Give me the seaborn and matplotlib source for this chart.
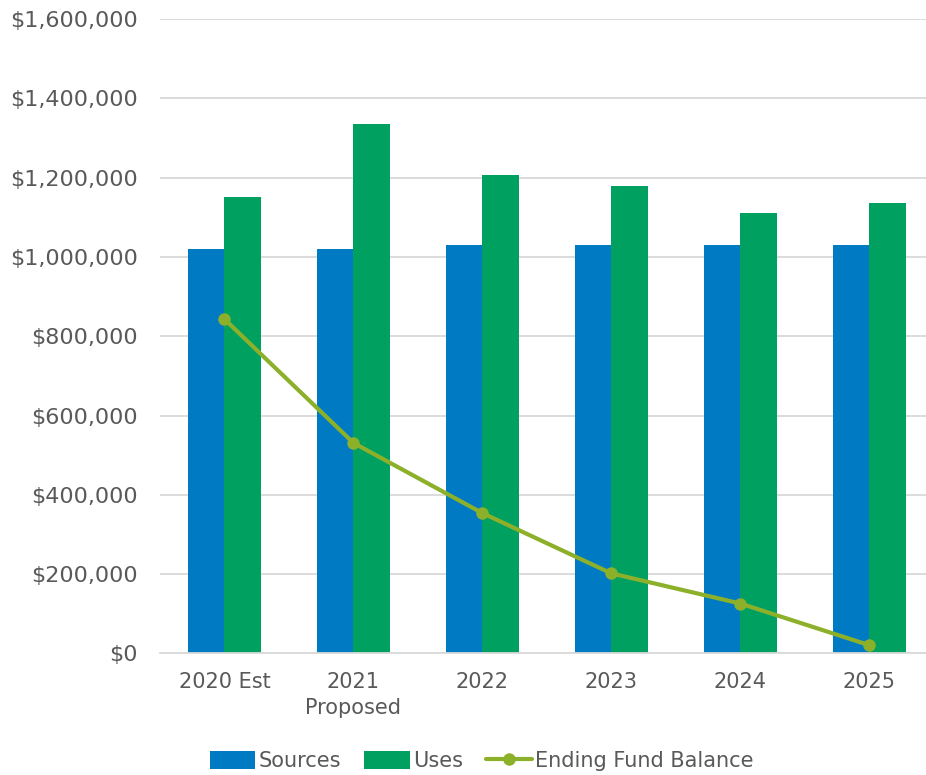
import numpy as np
import pandas as pd
import matplotlib
matplotlib.use("Agg")
import matplotlib.pyplot as plt
import seaborn as sns
from matplotlib.ticker import FuncFormatter, MultipleLocator
from matplotlib.patches import Patch
from matplotlib.lines import Line2D

# Fund projection values (dollars)
years = ["2020 Est", "2021\nProposed", "2022", "2023", "2024", "2025"]
sources = [1020000, 1020000, 1030000, 1030000, 1030000, 1030000]
uses = [1150000, 1335000, 1207000, 1180000, 1110000, 1136000]
ending_balance = [843000, 531000, 354000, 202000, 126000, 21000]

blue = "#007AC2"
green = "#00A060"
olive = "#8DB02B"
text_gray = "#595959"
grid_gray = "#D9D9D9"

sns.set_theme(style="white")
plt.rcParams["font.family"] = ["DejaVu Sans"]

df = pd.DataFrame({
    "Year": years * 2,
    "Series": ["Sources"] * len(years) + ["Uses"] * len(years),
    "Amount": sources + uses,
})

fig = plt.figure(figsize=(9.26, 7.75), dpi=100)
ax = fig.add_axes([0.1728, 0.1568, 0.8272, 0.8187])

sns.barplot(data=df, x="Year", y="Amount", hue="Series",
            palette={"Sources": blue, "Uses": green},
            width=0.57, gap=0, saturation=1, ax=ax, legend=False,
            linewidth=0)

sns.lineplot(x=np.arange(len(years)), y=ending_balance, color=olive,
             linewidth=3.0, marker="o", markersize=9, markeredgewidth=0,
             ax=ax, zorder=5)

ax.set_ylim(0, 1600000)
ax.set_xlim(-0.5, 5.44)
ax.yaxis.set_major_locator(MultipleLocator(200000))
ax.yaxis.set_major_formatter(FuncFormatter(lambda v, p: f"${v:,.0f}"))
ax.set_xticks(np.arange(len(years)))
ax.set_xticklabels(years, linespacing=1.4)

ax.grid(axis="y", color=grid_gray, linewidth=1.3)
ax.set_axisbelow(True)
for s in ["top", "right", "left"]:
    ax.spines[s].set_visible(False)
ax.spines["bottom"].set_color(grid_gray)
ax.spines["bottom"].set_linewidth(1.3)

ax.tick_params(axis="both", length=0, colors=text_gray)
ax.tick_params(axis="x", pad=13, labelsize=15)
ax.tick_params(axis="y", pad=16, labelsize=16)
ax.set_xlabel("")
ax.set_ylabel("")

handles = [
    Patch(facecolor=blue, edgecolor="none", label="Sources"),
    Patch(facecolor=green, edgecolor="none", label="Uses"),
    Line2D([0], [0], color=olive, linewidth=3.0, marker="o", markersize=9,
           markeredgewidth=0, label="Ending Fund Balance"),
]
fig.legend(handles=handles, loc="center", bbox_to_anchor=(0.52, 0.018),
           ncol=3, frameon=False, fontsize=15, handlelength=2.2,
           handleheight=0.9, handletextpad=0.15, columnspacing=1.1,
           labelcolor=text_gray)

fig.savefig("out.png", dpi=100)
